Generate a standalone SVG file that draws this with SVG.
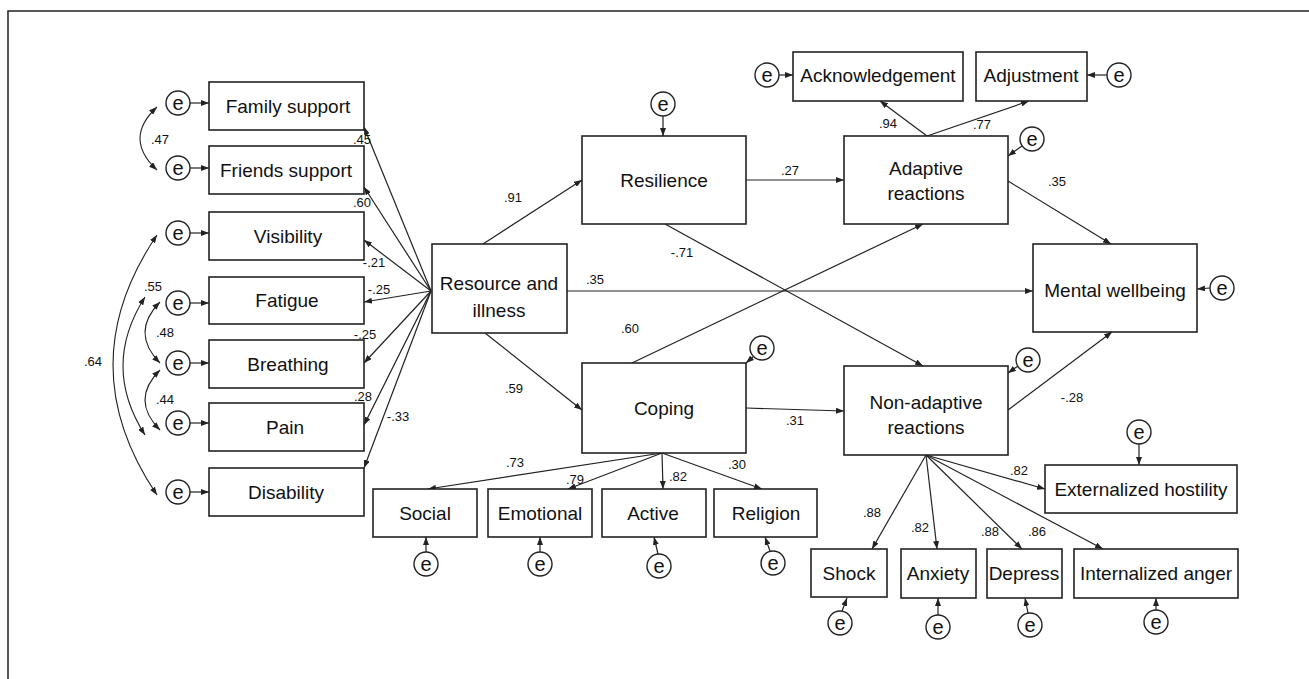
<svg xmlns="http://www.w3.org/2000/svg" width="1309" height="679" viewBox="0 0 1309 679">
<style>
.box{fill:#fff;stroke:#222;stroke-width:1.6}
.lbl{font-family:"Liberation Sans",Arial,sans-serif;font-size:19px;fill:#111;text-anchor:middle}
.coef{font-family:"Liberation Sans",Arial,sans-serif;font-size:13px;fill:#111;text-anchor:middle}
.err{fill:#fff;stroke:#222;stroke-width:1.4}
.etxt{font-family:"Liberation Sans",Arial,sans-serif;font-size:20px;fill:#111;text-anchor:middle}
.ln{fill:none;stroke:#222;stroke-width:1.2;marker-end:url(#ah)}
.arc{fill:none;stroke:#222;stroke-width:1.1;marker-start:url(#ah);marker-end:url(#ah)}
</style>
<defs>
<marker id="ah" viewBox="0 0 8 6" refX="8" refY="3" markerWidth="8" markerHeight="6" markerUnits="userSpaceOnUse" orient="auto-start-reverse">
<path d="M0,0 L8,3 L0,6 z" fill="#222"/>
</marker>
</defs>
<rect width="1309" height="679" fill="#fff"/>
<path d="M8,679 L8,11 L1309,11" fill="none" stroke="#222" stroke-width="1.5"/>

<g id="connectors">
<!-- error arrows left -->
<path class="ln" d="M190,103 L209,103"/>
<path class="ln" d="M190,168 L209,168"/>
<path class="ln" d="M190,233 L209,233"/>
<path class="ln" d="M190,303 L209,303"/>
<path class="ln" d="M190,363 L209,363"/>
<path class="ln" d="M190,423 L209,423"/>
<path class="ln" d="M190,492 L209,492"/>
<!-- covariance arcs -->
<path class="arc" d="M157,107 Q123,138.5 157,170"/>
<path class="arc" d="M160,302 Q130,332.5 160,363"/>
<path class="arc" d="M160,370 Q130,400 160,430"/>
<path class="arc" d="M145,297 Q101,366 145,435"/>
<path class="arc" d="M157,235 Q69,365 157,495"/>
<!-- resource to indicators -->
<path class="ln" d="M431,291 L364,127"/>
<path class="ln" d="M431,291 L364,187"/>
<path class="ln" d="M431,291 L364,240"/>
<path class="ln" d="M431,291 L364,302"/>
<path class="ln" d="M431,291 L364,363"/>
<path class="ln" d="M431,291 L364,425"/>
<path class="ln" d="M431,291 L364,468"/>
<!-- structural -->
<path class="ln" d="M483,244 L582,180"/>
<path class="ln" d="M485,333 L582,410"/>
<path class="ln" d="M567,291 L1033,291"/>
<path class="ln" d="M746,180 L844,180"/>
<path class="ln" d="M665,224 L923,366"/>
<path class="ln" d="M632,363 L923,224"/>
<path class="ln" d="M746,408 L844,411"/>
<path class="ln" d="M1008,181 L1111,244"/>
<path class="ln" d="M1008,410 L1112,332"/>
<path class="ln" d="M927,136 L880,101"/>
<path class="ln" d="M927,136 L1029,101"/>
<!-- coping indicators -->
<path class="ln" d="M662,453 L428,489"/>
<path class="ln" d="M662,453 L568,489"/>
<path class="ln" d="M662,453 L663,489"/>
<path class="ln" d="M662,453 L762,489"/>
<!-- non-adaptive indicators -->
<path class="ln" d="M926,455 L1045,489"/>
<path class="ln" d="M926,455 L872,549"/>
<path class="ln" d="M926,455 L937,549"/>
<path class="ln" d="M926,455 L1022,549"/>
<path class="ln" d="M926,455 L1103,549"/>
<!-- error arrows right -->
<path class="ln" d="M663,116 L663,136"/>
<path class="ln" d="M753,357 L746,363"/>
<path class="ln" d="M779,75 L793,75"/>
<path class="ln" d="M1107,75 L1087,75"/>
<path class="ln" d="M1022,146 L1008,156"/>
<path class="ln" d="M1018,366 L1008,373"/>
<path class="ln" d="M1210,288 L1197,289"/>
<path class="ln" d="M1139,444 L1139,465"/>
<path class="ln" d="M426,552 L426,537"/>
<path class="ln" d="M540,552 L540,537"/>
<path class="ln" d="M658,554 L654,537"/>
<path class="ln" d="M770,551 L765,537"/>
<path class="ln" d="M842,611 L847,598"/>
<path class="ln" d="M938,615 L938,598"/>
<path class="ln" d="M1028,613 L1025,598"/>
<path class="ln" d="M1156,610 L1156,598"/>
<!-- coefficients -->
<text class="coef" x="160" y="144">.47</text>
<text class="coef" x="153" y="291">.55</text>
<text class="coef" x="165" y="337">.48</text>
<text class="coef" x="165" y="404">.44</text>
<text class="coef" x="93" y="366">.64</text>
<text class="coef" x="362" y="144">.45</text>
<text class="coef" x="362" y="207">.60</text>
<text class="coef" x="374" y="267">-.21</text>
<text class="coef" x="379" y="294">-.25</text>
<text class="coef" x="365" y="339">-.25</text>
<text class="coef" x="363" y="401">.28</text>
<text class="coef" x="398" y="421">-.33</text>
<text class="coef" x="513" y="202">.91</text>
<text class="coef" x="514" y="393">.59</text>
<text class="coef" x="595" y="284">.35</text>
<text class="coef" x="790" y="175">.27</text>
<text class="coef" x="682" y="257">-.71</text>
<text class="coef" x="630" y="333">.60</text>
<text class="coef" x="795" y="425">.31</text>
<text class="coef" x="888" y="128">.94</text>
<text class="coef" x="982" y="129">.77</text>
<text class="coef" x="1057" y="186">.35</text>
<text class="coef" x="1072" y="402">-.28</text>
<text class="coef" x="515" y="467">.73</text>
<text class="coef" x="575" y="484">.79</text>
<text class="coef" x="678" y="481">.82</text>
<text class="coef" x="737" y="469">.30</text>
<text class="coef" x="1019" y="475">.82</text>
<text class="coef" x="872" y="517">.88</text>
<text class="coef" x="920" y="532">.82</text>
<text class="coef" x="990" y="536">.88</text>
<text class="coef" x="1037" y="536">.86</text>
</g>

<g id="family"><rect class="box" x="209" y="82" width="155" height="48"/><text class="lbl" x="288" y="113">Family support</text></g>
<g id="friends"><rect class="box" x="209" y="146" width="155" height="48"/><text class="lbl" x="286" y="177">Friends support</text></g>
<g id="visibility"><rect class="box" x="209" y="212" width="155" height="48"/><text class="lbl" x="288" y="243">Visibility</text></g>
<g id="fatigue"><rect class="box" x="209" y="277" width="155" height="47"/><text class="lbl" x="287" y="307">Fatigue</text></g>
<g id="breathing"><rect class="box" x="209" y="340" width="155" height="48"/><text class="lbl" x="288" y="371">Breathing</text></g>
<g id="pain"><rect class="box" x="209" y="403" width="155" height="48"/><text class="lbl" x="285" y="434">Pain</text></g>
<g id="disability"><rect class="box" x="209" y="468" width="155" height="48"/><text class="lbl" x="286" y="499">Disability</text></g>

<g id="resource"><rect class="box" x="432" y="244" width="135" height="89"/><text class="lbl" x="499" y="290">Resource and</text><text class="lbl" x="499" y="317">illness</text></g>
<g id="resilience"><rect class="box" x="582" y="136" width="164" height="88"/><text class="lbl" x="664" y="187">Resilience</text></g>
<g id="coping"><rect class="box" x="582" y="363" width="164" height="90"/><text class="lbl" x="664" y="415">Coping</text></g>
<g id="adaptive"><rect class="box" x="844" y="136" width="164" height="88"/><text class="lbl" x="926" y="175">Adaptive</text><text class="lbl" x="926" y="200">reactions</text></g>
<g id="nonadaptive"><rect class="box" x="844" y="366" width="164" height="89"/><text class="lbl" x="926" y="409">Non-adaptive</text><text class="lbl" x="926" y="434">reactions</text></g>
<g id="mental"><rect class="box" x="1033" y="244" width="164" height="88"/><text class="lbl" x="1115" y="297">Mental wellbeing</text></g>
<g id="acknowledgement"><rect class="box" x="793" y="52" width="170" height="49"/><text class="lbl" x="878" y="82">Acknowledgement</text></g>
<g id="adjustment"><rect class="box" x="976" y="52" width="111" height="49"/><text class="lbl" x="1031" y="82">Adjustment</text></g>
<g id="social"><rect class="box" x="373" y="489" width="104" height="48"/><text class="lbl" x="425" y="520">Social</text></g>
<g id="emotional"><rect class="box" x="488" y="489" width="104" height="48"/><text class="lbl" x="540" y="520">Emotional</text></g>
<g id="active"><rect class="box" x="602" y="489" width="104" height="48"/><text class="lbl" x="653" y="520">Active</text></g>
<g id="religion"><rect class="box" x="714" y="489" width="103" height="48"/><text class="lbl" x="766" y="520">Religion</text></g>
<g id="exthostility"><rect class="box" x="1045" y="465" width="192" height="48"/><text class="lbl" x="1141" y="496">Externalized hostility</text></g>
<g id="shock"><rect class="box" x="811" y="549" width="76" height="48"/><text class="lbl" x="849" y="580">Shock</text></g>
<g id="anxiety"><rect class="box" x="901" y="549" width="75" height="49"/><text class="lbl" x="938" y="580">Anxiety</text></g>
<g id="depress"><rect class="box" x="987" y="549" width="75" height="49"/><text class="lbl" x="1024" y="580">Depress</text></g>
<g id="intanger"><rect class="box" x="1074" y="549" width="164" height="49"/><text class="lbl" x="1156" y="580">Internalized anger</text></g>

<g id="errors">
<g id="e-family"><circle class="err" cx="178" cy="103" r="12"/><text class="etxt" x="178" y="110">e</text></g>
<g id="e-friends"><circle class="err" cx="178" cy="168" r="12"/><text class="etxt" x="178" y="175">e</text></g>
<g id="e-visibility"><circle class="err" cx="178" cy="233" r="12"/><text class="etxt" x="178" y="240">e</text></g>
<g id="e-fatigue"><circle class="err" cx="178" cy="303" r="12"/><text class="etxt" x="178" y="310">e</text></g>
<g id="e-breathing"><circle class="err" cx="178" cy="363" r="12"/><text class="etxt" x="178" y="370">e</text></g>
<g id="e-pain"><circle class="err" cx="178" cy="423" r="12"/><text class="etxt" x="178" y="430">e</text></g>
<g id="e-disability"><circle class="err" cx="178" cy="492" r="12"/><text class="etxt" x="178" y="499">e</text></g>
<g id="e-resilience"><circle class="err" cx="663" cy="104" r="12"/><text class="etxt" x="663" y="111">e</text></g>
<g id="e-coping"><circle class="err" cx="762" cy="348" r="12"/><text class="etxt" x="762" y="355">e</text></g>
<g id="e-ack"><circle class="err" cx="767" cy="75" r="12"/><text class="etxt" x="767" y="82">e</text></g>
<g id="e-adj"><circle class="err" cx="1119" cy="75" r="12"/><text class="etxt" x="1119" y="82">e</text></g>
<g id="e-adaptive"><circle class="err" cx="1032" cy="139" r="12"/><text class="etxt" x="1032" y="146">e</text></g>
<g id="e-nonadaptive"><circle class="err" cx="1028" cy="360" r="12"/><text class="etxt" x="1028" y="367">e</text></g>
<g id="e-mental"><circle class="err" cx="1222" cy="288" r="12"/><text class="etxt" x="1222" y="295">e</text></g>
<g id="e-ext"><circle class="err" cx="1139" cy="432" r="12"/><text class="etxt" x="1139" y="439">e</text></g>
<g id="e-social"><circle class="err" cx="426" cy="564" r="12"/><text class="etxt" x="426" y="571">e</text></g>
<g id="e-emotional"><circle class="err" cx="540" cy="564" r="12"/><text class="etxt" x="540" y="571">e</text></g>
<g id="e-active"><circle class="err" cx="659" cy="566" r="12"/><text class="etxt" x="659" y="573">e</text></g>
<g id="e-religion"><circle class="err" cx="773" cy="563" r="12"/><text class="etxt" x="773" y="570">e</text></g>
<g id="e-shock"><circle class="err" cx="840" cy="623" r="12"/><text class="etxt" x="840" y="630">e</text></g>
<g id="e-anxiety"><circle class="err" cx="938" cy="627" r="12"/><text class="etxt" x="938" y="634">e</text></g>
<g id="e-depress"><circle class="err" cx="1030" cy="625" r="12"/><text class="etxt" x="1030" y="632">e</text></g>
<g id="e-intanger"><circle class="err" cx="1156" cy="622" r="12"/><text class="etxt" x="1156" y="629">e</text></g>
</g>
</svg>
